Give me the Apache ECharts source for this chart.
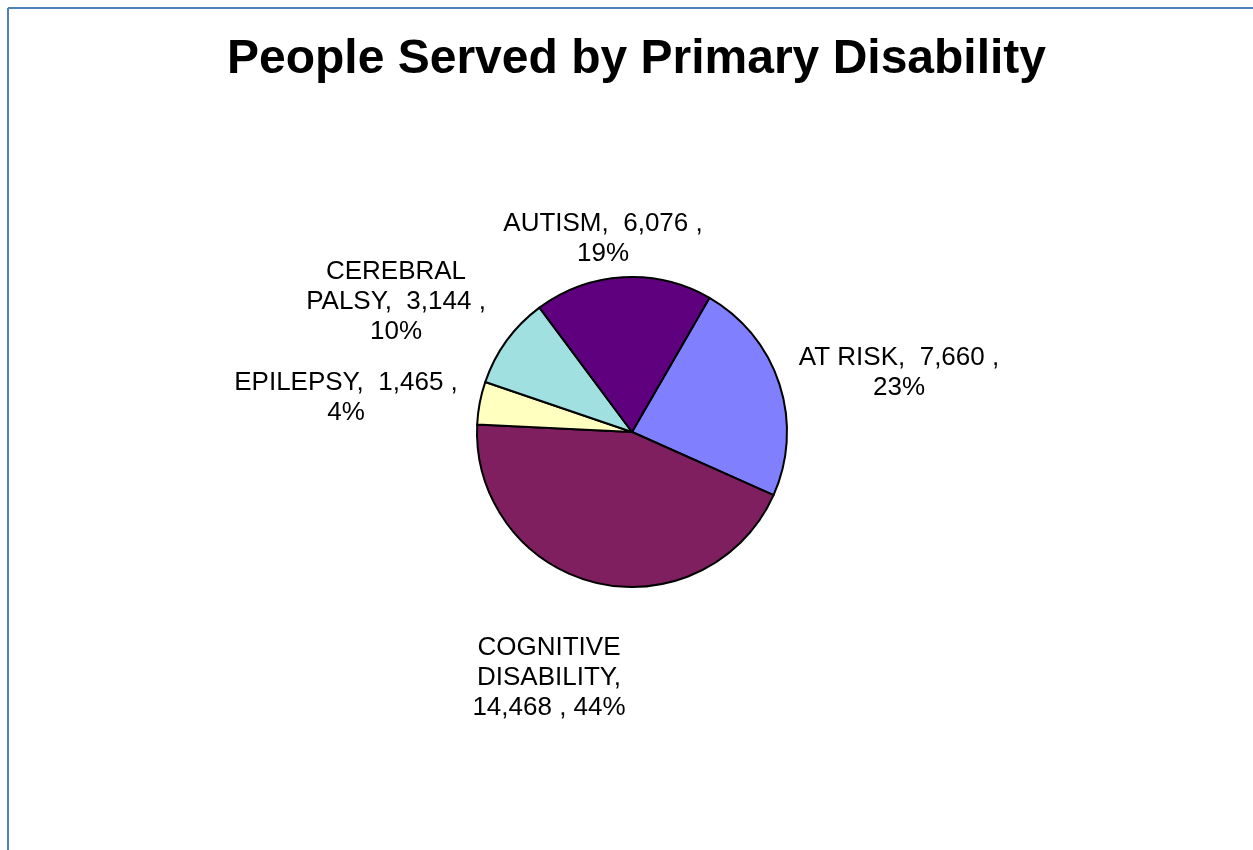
<!DOCTYPE html>
<html>
<head>
<meta charset="utf-8">
<script src="https://cdn.jsdelivr.net/npm/echarts@6/dist/echarts.min.js"></script>
<style>
  html, body { margin: 0; padding: 0; background: #fff; }
  #chart { width: 1253px; height: 850px; }
</style>
</head>
<body>
<div id="chart"></div>
<script>
// data, clockwise from the top-right slice
var categories = ['AT RISK', 'COGNITIVE DISABILITY', 'EPILEPSY', 'CEREBRAL PALSY', 'AUTISM']
var counts = [7660, 14468, 1465, 3144, 6076]
var colors = ['#8080ff', '#7f1f5f', '#ffffc0', '#a0e0e0', '#5f007f']

// where Excel put each data label (centre of the text block)
var labelSpots = [[899, 373], [549, 678], [346, 398], [396, 302], [603, 239]]

function fmt(n) {
  return n.toLocaleString('en-US')
}

function labelText(p) {
  var v = fmt(p.value)
  var pct = Math.round(p.percent) + '%'
  switch (p.name) {
    case 'CEREBRAL PALSY':
      return 'CEREBRAL\nPALSY,  ' + v + ' ,\n' + pct
    case 'COGNITIVE DISABILITY':
      return 'COGNITIVE\nDISABILITY,\n' + v + ' , ' + pct
    default:
      return p.name + ',  ' + v + ' ,\n' + pct
  }
}

var chart = echarts.init(document.getElementById('chart'))
chart.setOption({
  animation: false,
  title: {
    text: 'People Served by Primary Disability',
    left: 222,
    top: 31,
    textStyle: {
      fontFamily: 'Liberation Sans, Arial, sans-serif',
      fontWeight: 'bold',
      fontSize: 48,
      color: '#000'
    }
  },
  graphic: [
    // frame: only top and left edges show in the picture
    { type: 'line', shape: { x1: 8, y1: 8, x2: 1253, y2: 8 }, style: { stroke: '#4f81bd', lineWidth: 2 } },
    { type: 'line', shape: { x1: 8, y1: 8, x2: 8, y2: 850 }, style: { stroke: '#4f81bd', lineWidth: 2 } }
  ],
  series: [
    {
      type: 'pie',
      center: [632, 432],
      radius: 155,
      startAngle: 60,
      clockwise: true,
      avoidLabelOverlap: false,
      itemStyle: {
        borderColor: '#000',
        borderWidth: 2
      },
      label: {
        show: true,
        position: 'outside',
        formatter: labelText,
        fontFamily: 'Liberation Sans, Arial, sans-serif',
        fontSize: 26,
        lineHeight: 30,
        color: '#000',
        align: 'center'
      },
      labelLine: { show: false },
      labelLayout: function (params) {
        var s = labelSpots[params.dataIndex]
        return { x: s[0], y: s[1], align: 'center', verticalAlign: 'middle' }
      },
      emphasis: { disabled: true },
      data: categories.map(function (c, i) {
        return { name: c, value: counts[i], itemStyle: { color: colors[i] } }
      })
    }
  ]
})
</script>
</body>
</html>
